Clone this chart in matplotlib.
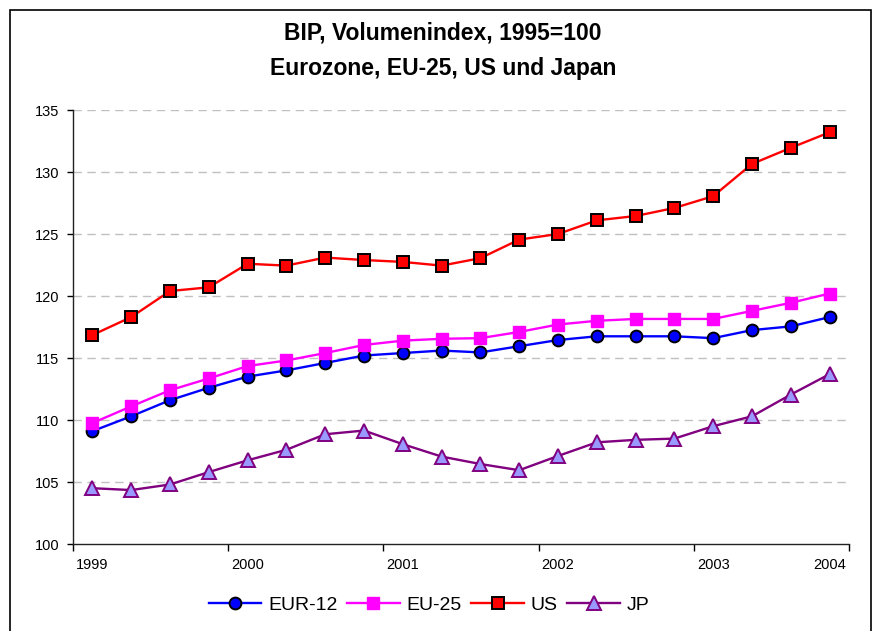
import matplotlib
matplotlib.use("Agg")
import matplotlib.pyplot as plt
from matplotlib.patches import Rectangle
import numpy as np

plt.rcParams['font.family'] = ['Liberation Sans', 'DejaVu Sans']

# quarterly index values, 1999 Q1 .. 2003 Q4
eur12 = [109.1, 110.3, 111.6, 112.6, 113.5, 114.0, 114.6, 115.2, 115.4, 115.6,
         115.45, 115.95, 116.45, 116.75, 116.75, 116.75, 116.6, 117.25, 117.55, 118.3]
eu25 = [109.75, 111.1, 112.4, 113.35, 114.35, 114.8, 115.4, 116.05, 116.4, 116.55,
        116.6, 117.1, 117.7, 118.0, 118.15, 118.15, 118.15, 118.8, 119.45, 120.2]
us = [116.85, 118.3, 120.4, 120.7, 122.6, 122.45, 123.1, 122.9, 122.75, 122.45,
      123.05, 124.55, 125.0, 126.1, 126.45, 127.1, 128.05, 130.65, 131.95, 133.2]
jp = [104.5, 104.35, 104.8, 105.8, 106.75, 107.6, 108.85, 109.15, 108.05, 107.05,
      106.45, 105.95, 107.1, 108.2, 108.4, 108.5, 109.5, 110.3, 112.05, 113.7]

year_labels = ['1999', '2000', '2001', '2002', '2003', '2004']
label_idx = [0, 4, 8, 12, 16, 19]

x = np.arange(len(us))

fig = plt.figure(figsize=(8.77, 6.31), dpi=100)
ax = fig.add_axes([73/877, 1-544/631, (849-73)/877, (544-110)/631])

ax.plot(x, eur12, color='#0000ff', lw=1.7, marker='o', ms=8.5,
        mfc='#0000ff', mec='black', mew=1.4, label='EUR-12', zorder=3)
ax.plot(x, eu25, color='#ff00ff', lw=1.7, marker='s', ms=8.5,
        mfc='#ff00ff', mec='#ff00ff', mew=1, label='EU-25', zorder=4)
ax.plot(x, us, color='#ff0000', lw=1.7, marker='s', ms=8.5,
        mfc='#ff0000', mec='black', mew=1.4, label='US', zorder=5)
ax.plot(x, jp, color='#800080', lw=1.7, marker='^', ms=10,
        mfc='#9999ff', mec='#800080', mew=1.4, label='JP', zorder=6)

ax.set_xlim(-0.5, len(us) - 0.5)
ax.set_ylim(100, 135)
ax.set_yticks(np.arange(100, 136, 5))
ax.tick_params(axis='y', direction='out', length=4, width=1, labelsize=10.5, pad=6)

# tick marks between categories, labels on the categories
ax.set_xticks(np.arange(-0.5, len(us), 4))
ax.set_xticklabels([])
ax.set_xticks(label_idx, minor=True)
ax.set_xticklabels(year_labels, minor=True)
ax.tick_params(axis='x', which='major', direction='out', length=5, width=1)
ax.tick_params(axis='x', which='minor', length=0, labelsize=10.5, pad=10)

for v in range(105, 136, 5):
    ax.axhline(v, color='#c0c0c0', lw=1, ls=(0, (6, 4)), zorder=1)

for s in ['top', 'right']:
    ax.spines[s].set_visible(False)
for s in ['left', 'bottom']:
    ax.spines[s].set_linewidth(1)
    ax.spines[s].set_color('#222222')

fig.text(0.505, 1-33/631, 'BIP, Volumenindex, 1995=100', ha='center', va='center',
         fontsize=16.5, fontweight='bold')
fig.text(0.505, 1-68/631, 'Eurozone, EU-25, US und Japan', ha='center', va='center',
         fontsize=16.5, fontweight='bold')

fig.legend(loc='center', bbox_to_anchor=(429/877, 1-605/631), ncol=4, frameon=False,
           fontsize=14, handlelength=2.7, handletextpad=0.35, columnspacing=0.5)

fig.patches.append(Rectangle((9.5/877, -0.05), (871-9.5)/877, 1.05-10.5/631,
                             transform=fig.transFigure, fill=False, lw=1.2,
                             ec='black'))

fig.savefig('out.png', dpi=100)
